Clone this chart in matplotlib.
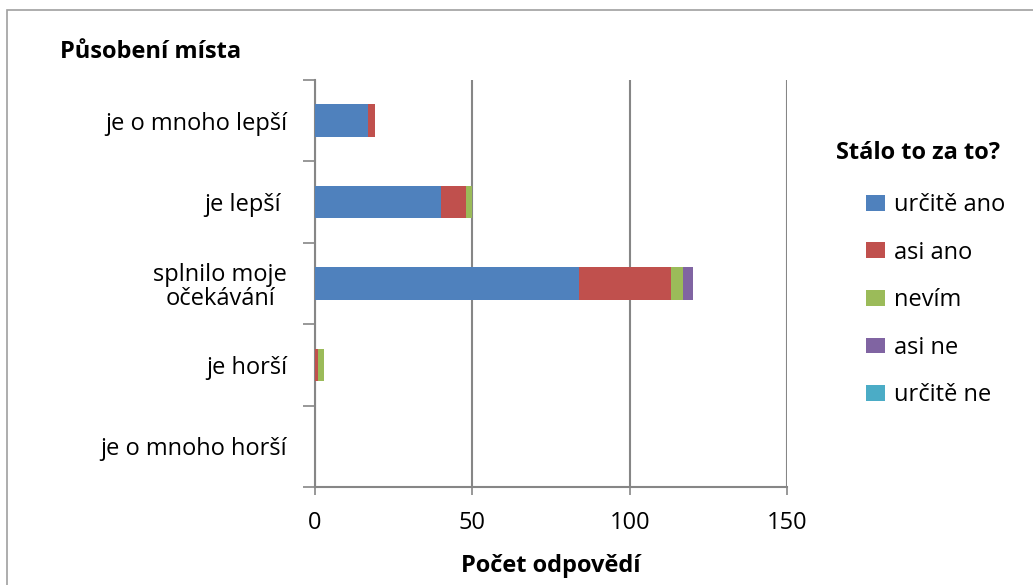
import numpy as np
import matplotlib.pyplot as plt
from matplotlib.patches import Rectangle, Patch

plt.rcParams['font.family'] = ['Open Sans', 'DejaVu Sans']

# kategorie (shora dolu)
categories = ['je o mnoho lepší', 'je lepší ', 'splnilo moje\nočekávání',
              'je horší', 'je o mnoho horší']
series_names = ['určitě ano', 'asi ano', 'nevím', 'asi ne', 'určitě ne']
urcite_ano = [17, 40, 84, 0, 0]
asi_ano = [2, 8, 29, 1, 0]
nevim = [0, 2, 4, 2, 0]
asi_ne = [0, 0, 3, 0, 0]
urcite_ne = [0, 0, 0, 0, 0]
x_ticks = [0, 50, 100, 150]

colors = ['#4F81BD', '#C0504D', '#9BBB59', '#8064A2', '#4BACC6']
grid_col = '#868686'
fs = 17

fig = plt.figure(figsize=(10.33, 5.85), dpi=100)
# okraj grafu
fig.patches.append(Rectangle((7 / 1033, -0.05), 1.1, 1 - 10 / 585 + 0.05,
                             transform=fig.transFigure, fill=False,
                             edgecolor='#A0A0A0', linewidth=1.2))

ax = fig.add_axes([315 / 1033, 1 - 487 / 585, 472 / 1033, 407 / 585])

y = np.arange(len(categories))
left = np.zeros(len(categories))
for name, vals, col in zip(series_names,
                           [urcite_ano, asi_ano, nevim, asi_ne, urcite_ne],
                           colors):
    vals = np.array(vals, dtype=float)
    ax.barh(y, vals, left=left, height=0.4, color=col, label=name, zorder=3)
    left += vals

ax.set_xlim(0, 150)
ax.set_ylim(len(categories) - 0.5, -0.5)
ax.set_xticks(x_ticks)
ax.set_xticklabels([str(t) for t in x_ticks], fontsize=fs)
ax.set_yticks(y)
ax.set_yticklabels(categories, fontsize=fs, multialignment='center',
                   linespacing=1.05)
ax.set_yticks(np.arange(-0.5, len(categories)), minor=True)
ax.tick_params(axis='y', which='major', length=0, pad=20)
ax.tick_params(axis='y', which='minor', length=9, width=1.2, color=grid_col)
ax.tick_params(axis='x', length=6, width=1.2, color=grid_col, pad=11)
ax.xaxis.grid(True, color=grid_col, linewidth=1.5, zorder=0)

for s in ['top', 'right']:
    ax.spines[s].set_visible(False)
for s in ['left', 'bottom']:
    ax.spines[s].set_color(grid_col)
    ax.spines[s].set_linewidth(1.5)

ax.set_xlabel('Počet odpovědí', fontsize=fs, fontweight='bold', labelpad=14)
fig.text(60 / 1033, 1 - 52 / 585, 'Působení místa', fontsize=fs,
         fontweight='bold', va='center', ha='left')

# legenda
handles = [Patch(facecolor=c, label=n) for c, n in zip(colors, series_names)]
fig.text(836 / 1033, 1 - 153 / 585, 'Stálo to za to?', fontsize=fs,
         fontweight='bold', va='center', ha='left')
fig.legend(handles=handles, loc='upper left',
           bbox_to_anchor=(866 / 1033, 1 - 193 / 585), frameon=False,
           fontsize=fs, handlelength=0.8, handleheight=0.65,
           handletextpad=0.4, labelspacing=1.0, borderpad=0,
           borderaxespad=0)

fig.savefig('out.png', dpi=100)
